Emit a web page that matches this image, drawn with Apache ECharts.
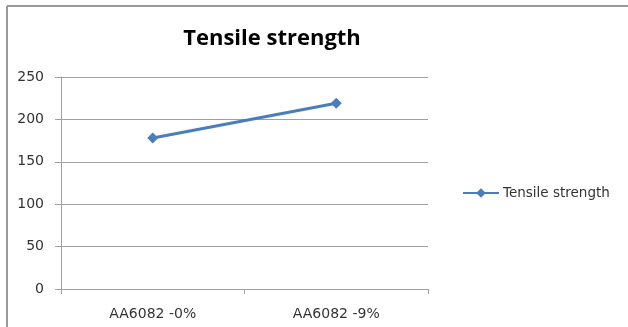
<!DOCTYPE html>
<html>
<head>
<meta charset="utf-8">
<script src="https://cdn.jsdelivr.net/npm/echarts@6/dist/echarts.min.js"></script>
<style>
  html, body { margin: 0; padding: 0; background: #fff; }
  #chart { width: 628px; height: 327px; }
</style>
</head>
<body>
<div id="chart"></div>
<script>
// Tensile strength of AA6082 samples
const categories = ['AA6082 -0%', 'AA6082 -9%'];
const tensileStrength = [178, 219];
const yTicks = [0, 50, 100, 150, 200, 250];

const chart = echarts.init(document.getElementById('chart'));
const axisGray = '#a0a0a0';
const textColor = '#333';
const titleFont = '"Open Sans", "Liberation Sans", sans-serif';
const labelFont = '"DejaVu Sans", sans-serif';

chart.setOption({
  animation: false,
  backgroundColor: '#fff',
  title: {
    text: 'Tensile strength',
    left: 267,
    top: 23,
    textAlign: 'center',
    textStyle: { fontSize: 22, fontWeight: 'bold', color: '#000', fontFamily: titleFont }
  },
  legend: {
    data: ['Tensile strength'],
    left: 457,
    top: 181,
    itemWidth: 36,
    itemHeight: 12,
    itemGap: 5,
    textStyle: { fontSize: 13.5, color: textColor, fontFamily: labelFont, padding: [0, 0, 0, -1] }
  },
  grid: { left: 61, right: 200, top: 77, bottom: 38, containLabel: false },
  xAxis: {
    type: 'category',
    data: categories,
    boundaryGap: true,
    axisLine: { lineStyle: { color: axisGray, width: 1 } },
    axisTick: { show: true, length: 5, lineStyle: { color: axisGray } },
    axisLabel: { color: textColor, fontSize: 14, fontFamily: labelFont, margin: 18 },
    splitLine: { show: false }
  },
  yAxis: {
    type: 'value',
    min: yTicks[0],
    max: yTicks[yTicks.length - 1],
    interval: yTicks[1] - yTicks[0],
    axisLine: { show: true, lineStyle: { color: axisGray, width: 1 } },
    axisTick: { show: true, length: 6, lineStyle: { color: axisGray } },
    axisLabel: { color: textColor, fontSize: 14, fontFamily: labelFont, margin: 17 },
    splitLine: { show: true, lineStyle: { color: axisGray, width: 1 } }
  },
  series: [{
    name: 'Tensile strength',
    type: 'line',
    data: tensileStrength,
    symbol: 'diamond',
    symbolSize: 11,
    lineStyle: { color: '#4a7ebb', width: 3 },
    itemStyle: { color: '#4a7ebb' }
  }],
  graphic: [
    { type: 'line', shape: { x1: 7, y1: 6, x2: 640, y2: 6 }, style: { stroke: '#9a9a9a', lineWidth: 2 } },
    { type: 'line', shape: { x1: 7, y1: 6, x2: 7, y2: 340 }, style: { stroke: '#9a9a9a', lineWidth: 2 } }
  ]
});
</script>
</body>
</html>
